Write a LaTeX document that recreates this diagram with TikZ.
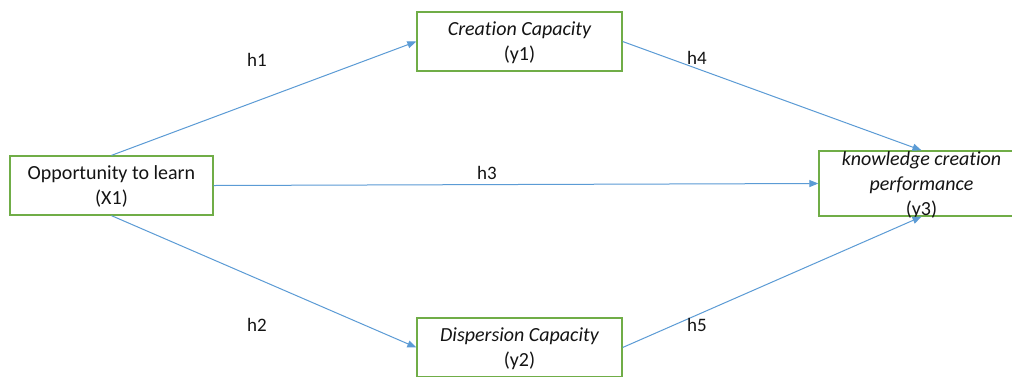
\documentclass[tikz,border=0pt]{standalone}
\usepackage{fontspec}
\setmainfont{Carlito}[Ligatures={NoCommon}]
\usetikzlibrary{arrows.meta}
\definecolor{boxgreen}{RGB}{112,173,71}
\definecolor{lineblue}{RGB}{91,155,213}
\definecolor{txt}{RGB}{20,20,20}
\begin{document}
\begin{tikzpicture}[x=1pt,y=-1pt,
  box/.style={draw=boxgreen,line width=1.3pt,fill=white,inner sep=0pt,align=center,
    text=txt,font=\fontsize{20}{25}\selectfont,text depth=0pt},
  link/.style={draw=lineblue,line width=1pt,-{Triangle[length=9pt,width=7pt]}},
  lab/.style={text=txt,font=\fontsize{19}{21}\selectfont,inner sep=0pt}]
\clip (0,0) rectangle (1012,376);
\fill[white] (0,0) rectangle (1012,376);
\node[box,minimum width=203pt,minimum height=59pt] (x1) at (111.5,185.5) {Opportunity to learn\\(X1)};
\node[box,minimum width=205pt,minimum height=59pt] (y1) at (519.5,41.5) {{\itshape Creation Capacity}\\(y1)};
\node[box,minimum width=205pt,minimum height=59pt] (y2) at (519.5,347.5) {{\itshape Dispersion Capacity}\\(y2)};
\node[box,minimum width=205pt,minimum height=65pt] (y3) at (921.5,183.5) {{\itshape knowledge creation}\\{\itshape performance}\\(y3)};
\draw[link] (x1.north) -- (y1.west);
\draw[link] (x1.east) -- (y3.west);
\draw[link] (x1.south) -- (y2.west);
\draw[link] (y1.east) -- (y3.north);
\draw[link] (y2.east) -- (y3.south);
\node[lab] (h1) at (257,60) {h1};
\node[lab] (h2) at (257,325) {h2};
\node[lab] (h3) at (487,173) {h3};
\node[lab] (h4) at (697,58) {h4};
\node[lab] (h5) at (697,325) {h5};
\end{tikzpicture}
\end{document}
